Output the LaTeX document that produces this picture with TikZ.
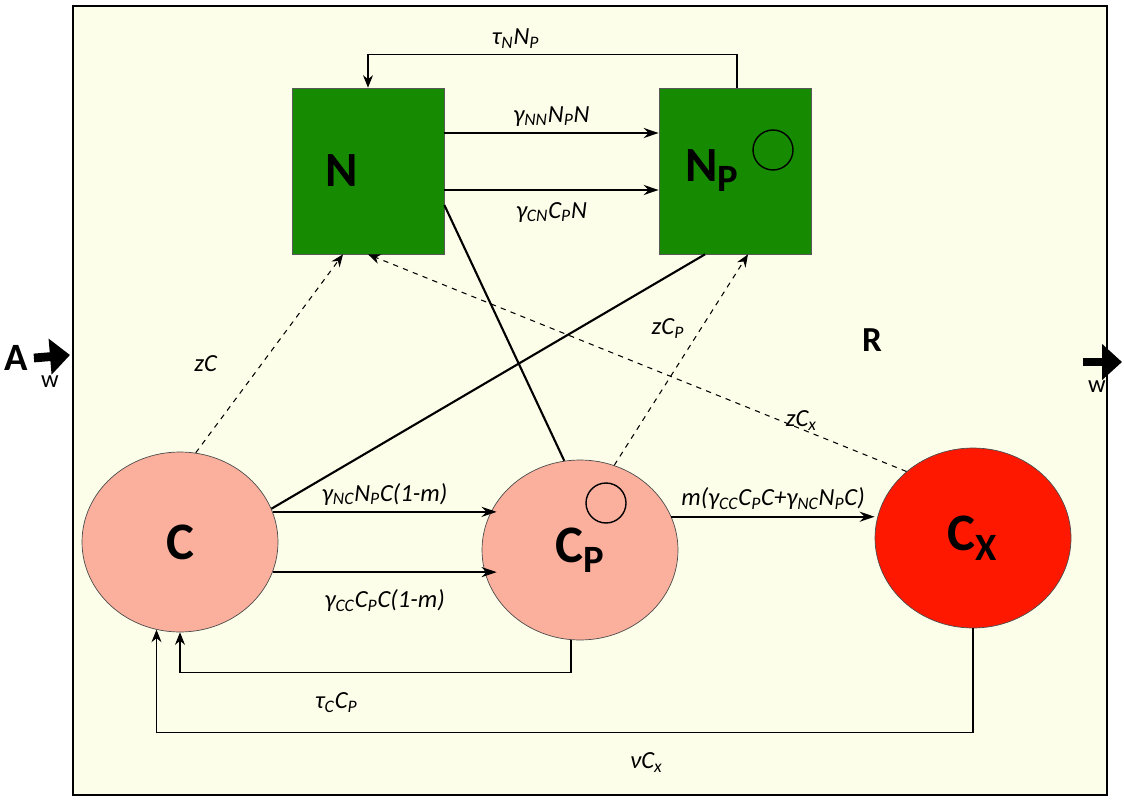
\documentclass[tikz,border=0pt]{standalone}
\usepackage{fontspec}
\setmainfont{Carlito}
\usetikzlibrary{shapes.geometric,arrows.meta,positioning}
\definecolor{bgyellow}{HTML}{FDFEE9}
\definecolor{boxgreen}{HTML}{168A00}
\definecolor{cellpink}{HTML}{FBB09E}
\definecolor{cellred}{HTML}{FF1800}
\newcommand{\lb}[1]{\textsubscript{\fontsize{10}{10}\selectfont #1}}
\tikzset{
  box/.style={draw=gray!70!black, fill=boxgreen, minimum width=3.04cm, minimum height=3.32cm, inner sep=0pt, font=\fontsize{28}{28}\selectfont\bfseries},
  cell/.style={ellipse, draw=black!70, fill=cellpink, minimum width=3.92cm, minimum height=3.6cm, inner sep=0pt, font=\fontsize{30}{30}\selectfont\bfseries},
  dot/.style={circle, draw=black, thick, minimum size=0.8cm, inner sep=0pt},
  arr/.style={-{Stealth[length=3mm,width=2mm]}, line width=1.2pt},
  thin arr/.style={-{Stealth[length=2.5mm,width=2mm]}, semithick},
  dash arr/.style={-{Stealth[length=2.5mm,width=2mm]}, semithick, dashed},
  flow/.style={-{Triangle[length=4mm,width=7mm]}, line width=5pt},
  rate/.style={font=\fontsize{14}{14}\selectfont\itshape},
}
\begin{document}
\begin{tikzpicture}[x=0.02cm,y=-0.02cm]
  \useasboundingbox (0,0) rectangle (1124,800);
  \draw[line width=1.2pt, fill=bgyellow] (73,6) rectangle (1107,795);
  % compartments
  \node[box] (N) at (368,171) {\raisebox{-0.3cm}{\hspace*{-1.05cm}N}};
  \node[box] (NP) at (735,171) {\raisebox{-0.3cm}{\hspace*{-0.9cm}N\lb{\fontsize{22}{22}\selectfont P}}};
  \node[dot] (np dot) at (773,150) {};
  \node[cell] (C) at (180,542) {C};
  \node[cell] (CP) at (580,550) {C\lb{\fontsize{22}{22}\selectfont P}};
  \node[dot] (cp dot) at (606,503) {};
  \node[cell, fill=cellred] (CX) at (973,538) {C\lb{\fontsize{22}{22}\selectfont X}};
  \node[font=\fontsize{20}{20}\selectfont\bfseries] (R) at (872,340) {R};
  % inflow and outflow
  \node[font=\fontsize{22}{22}\selectfont\bfseries] (A) at (16,358) {A};
  \coordinate (in end) at (70,355);
  \draw[flow] (A.east) -- (in end);
  \node[font=\fontsize{14}{14}\selectfont] (w in) at (50,382) {w};
  \coordinate (out start) at (1083,362);
  \coordinate (out end) at (1122,362);
  \draw[flow] (out start) -- (out end);
  \node[font=\fontsize{14}{14}\selectfont] (w out) at (1097,387) {w};
  % N transitions
  \draw[thin arr] ([xshift=0.04cm]NP.north) -- ++(0,-33) -| (N.north) node[rate, pos=0.3, above] {τ\lb{N}N\lb{P}};
  \draw[arr] ([yshift=0.76cm]N.east) -- ([yshift=0.76cm]NP.west) node[rate, midway, above] {γ\lb{NN}N\lb{P}N};
  \draw[arr] ([yshift=-0.38cm]N.east) -- ([yshift=-0.38cm]NP.west) node[rate, midway, below=3pt] {γ\lb{CN}C\lb{P}N};
  \draw[line width=1.2pt] ([yshift=-0.68cm]N.east) -- (CP.100);
  \draw[line width=1.2pt] ([xshift=-0.6cm]NP.south) -- (C.20);
  % decay to N
  \draw[dash arr] (C.80) -- ([xshift=-0.5cm]N.south) node[rate, pos=0.45, left=22pt] {zC};
  \draw[dash arr] (CP.68) -- ([xshift=0.26cm]NP.south) node[rate, pos=0.65, left=6pt] {zC\lb{P}};
  \draw[dash arr] (CX.135) -- (N.south) node[rate, pos=0.15, above left=2pt] {zC\lb{x}};
  % C transitions
  \draw[arr] (C.18) -- ([xshift=0.3cm]C.18 -| CP.west) node[rate, midway, above] {γ\lb{NC}N\lb{P}C(1-m)};
  \draw[arr] (C.-18) -- ([xshift=0.3cm]C.-18 -| CP.west) node[rate, midway, below=6pt] {γ\lb{CC}C\lb{P}C(1-m)};
  \draw[arr] (CP.20) -- (CP.20 -| CX.west) node[rate, midway, above] {m(γ\lb{CC}C\lb{P}C+γ\lb{NC}N\lb{P}C)};
  \draw[thin arr] ([xshift=-0.18cm]CP.south) -- ++(0,32) -| (C.south) node[rate, pos=0.3, below=8pt] {τ\lb{C}C\lb{P}};
  \draw[thin arr] (CX.south) -- ++(0,104) -| (C.-105) node[rate, pos=0.2, below=8pt] {νC\lb{x}};
\end{tikzpicture}
\end{document}
